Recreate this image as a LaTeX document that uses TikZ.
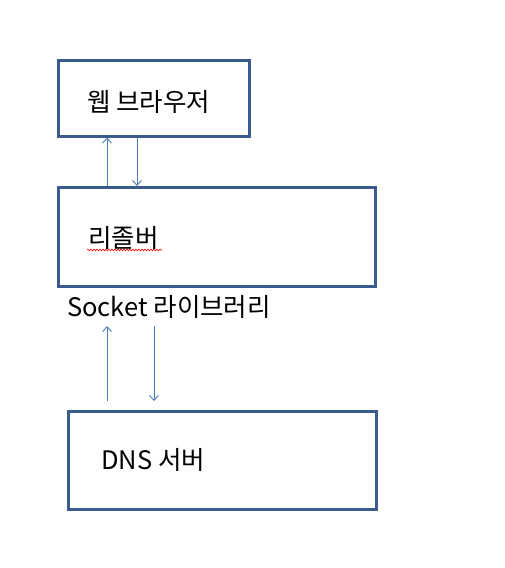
\documentclass[tikz,border=0pt]{standalone}
\usepackage{fontspec}
\setmainfont{Noto Sans CJK KR}
\usetikzlibrary{arrows.meta,decorations.pathmorphing}
\definecolor{boxblue}{HTML}{3A5B8C}
\definecolor{arrblue}{HTML}{4A7EBB}
\tikzset{
  boxnode/.style={draw=boxblue, line width=3pt, minimum width=#1, inner sep=0pt, rectangle},
  lbl/.style={anchor=west, inner sep=0pt, font=\fontsize{25.5}{30}\selectfont},
  conn/.style={draw=arrblue, line width=1pt, -{Straight Barb[length=5pt,width=9pt,line width=0.9pt]}}
}
\begin{document}
\begin{tikzpicture}[x=1pt,y=-1pt]
\useasboundingbox (0,0) rectangle (504,568);
\node[boxnode=191pt, minimum height=76pt] (b1) at (154,98) {};
\node[boxnode=316.5pt, minimum height=98.5pt] (b2) at (216.75,236.75) {};
\node[boxnode=307.5pt, minimum height=97.5pt] (b3) at (222.25,460.25) {};
\node[lbl] (t1) at (87,102) {웹 브라우저};
\node[lbl] (t2) at (88,238) {리졸버};
\node[lbl] (sock) at (67,307) {Socket 라이브러리};
\node[lbl] (t3) at (101,460) {DNS 서버};
\draw[red, line width=0.6pt, decorate, decoration={snake, amplitude=0.9pt, segment length=3pt}] (87,250) -- (162,250);
\coordinate (s1) at (107,326);
\coordinate (s2) at (154,326);
\draw[conn] (b2.north -| 107,0) -- (b1.south -| 107,0);
\draw[conn] (b1.south -| 137,0) -- (b2.north -| 137,0);
\draw[conn] (b3.north -| 107,0) ++(0,-9) -- (s1);
\draw[conn] (s2) -- ([yshift=9pt]b3.north -| 154,0);
\end{tikzpicture}
\end{document}
